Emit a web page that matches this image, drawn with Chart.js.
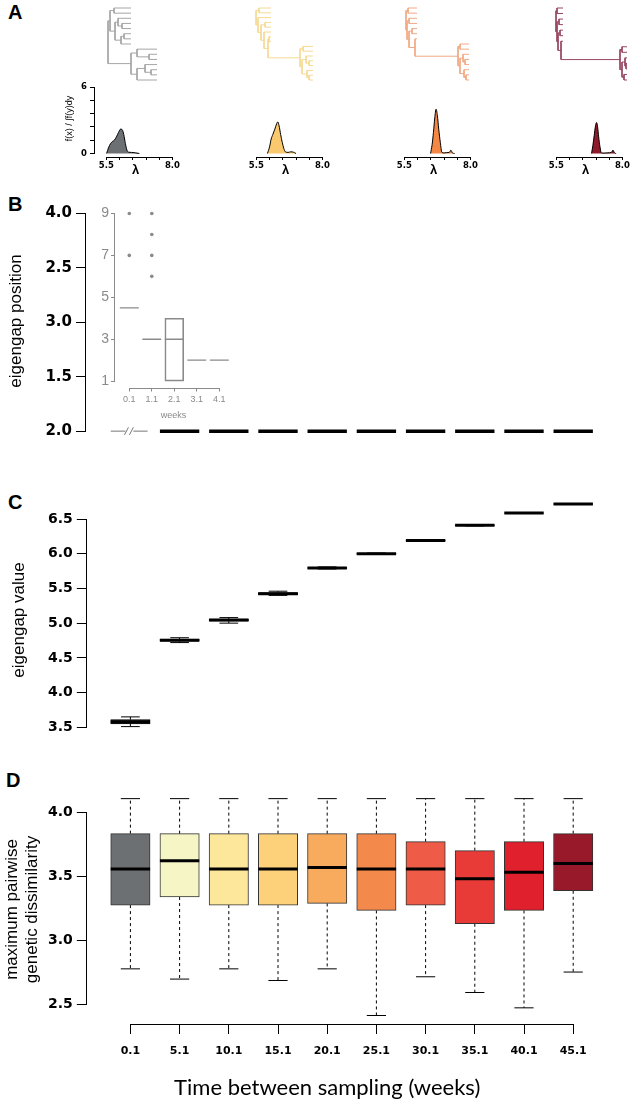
<!DOCTYPE html>
<html>
<head>
<meta charset="utf-8">
<script src="https://cdn.jsdelivr.net/npm/chart.js@4.4.1/dist/chart.umd.min.js"></script>
<style>
  body { margin: 0; background: #fff; width: 633px; height: 1102px; position: relative; overflow: hidden; }
  canvas { position: absolute; }
  .tag { position: absolute; font: bold 20px "Liberation Sans", Arial, sans-serif; line-height: 20px; color: #000; }
</style>
</head>
<body>
<div class="tag" style="left:8px;top:2px">A</div>
<div class="tag" style="left:8px;top:194px">B</div>
<div class="tag" style="left:8px;top:492px">C</div>
<div class="tag" style="left:6px;top:770px">D</div>
<script>
// ---------- data ----------
const weeks = ["0.1", "5.1", "10.1", "15.1", "20.1", "25.1", "30.1", "35.1", "40.1", "45.1"];
const weekColors = ["#6c7073", "#f6f5c5", "#fde79b", "#fdd17a", "#f9ab5d", "#f4894c", "#ee5b46", "#e83b38", "#e0202d", "#98192a"];

// A: trees, node = [branch length, [children]] , leaf = branch length
const tree1 = [0, [
  [2, [[4, [17, 17]], [5, [[3, [13, [4, [9, 9]]]], [6, [[3, [7, 7]], 10]]]]]],
  [23, [[6, [20, [12, [8, 8]]]], [6, [[8, [12, [6, [6, 6]]]], 20]]]]
]];
const tree2Low = [32, [[3, [10, 10]], [2, [[4, [7, [3, [4, 4]]]], [5, [6, [2, [4, 4]]]]]]]];
const tree2 = [0, [[3, [12, 12]], [2, [13, [3, [[4, [6, 6]], [3, [7, [4, [[1, [2, 2]], tree2Low]]]]]]]]]];
const tree3Low = [43, [[2, [9, 9]], [2, [[3, [6, [2, [4, 4]]]], [4, [5, [2, [3, 3]]]]]]]];
const tree3 = [0, [[2, [9, 9]], [1, [[2, [8, 8]], [2, [[3, [5, 5]], [6, [2, tree3Low]]]]]]]];
const tree4Low = [59, [[2, [5, 5]], [2, [[3, [2, [1, [1, 1]]]], [2, [3, 3]]]]]];
const tree4 = [0, [[1, [6, 6]], [1, [[2, [4, 4]], [1, [[2, [3, 3]], [3, [2, tree4Low]]]]]]]];
const trees = [tree1, tree2, tree3, tree4];
const treeColors = ["#a6a6a6", "#f6da95", "#f2a984", "#984860"];

// A: densities of lambda
const densL1 = [5.51, 5.58, 5.66, 5.74, 5.8, 5.88, 5.96, 6.04, 6.1, 6.16, 6.22, 6.28, 6.34, 6.45, 6.6, 6.75];
const densH1 = [0, 0.5, 0.9, 1.1, 1.2, 1.5, 1.9, 2.2, 2.15, 1.7, 0.9, 0.3, 0.12, 0.1, 0.06, 0];
const densL2 = [5.92, 6.0, 6.06, 6.12, 6.2, 6.27, 6.31, 6.36, 6.42, 6.48, 6.54, 6.6, 6.7, 6.8, 6.9, 7.0];
const densH2 = [0, 0.6, 1.3, 1.7, 2.2, 2.7, 2.85, 2.5, 1.7, 1.0, 0.45, 0.15, 0.1, 0.15, 0.12, 0];
const densL3 = [6.49, 6.55, 6.6, 6.65, 6.7, 6.75, 6.8, 6.86, 6.92, 7.0, 7.1, 7.2, 7.26, 7.32, 7.4];
const densH3 = [0, 0.8, 1.9, 3.2, 4.0, 3.4, 2.2, 1.0, 0.1, 0.05, 0.08, 0.1, 0.3, 0.05, 0];
const densL4 = [6.83, 6.88, 6.93, 6.98, 7.02, 7.06, 7.1, 7.15, 7.2, 7.3, 7.45, 7.58, 7.64, 7.7, 7.76];
const densH4 = [0, 0.7, 1.6, 2.5, 2.8, 2.4, 1.5, 0.6, 0.05, 0.04, 0.06, 0.1, 0.3, 0.05, 0];
const densColors = ["#6c7073", "#fbc96d", "#f38844", "#8e1a2b"];
const densXTicks = [5.5, 6, 6.5, 7, 7.5, 8];
const densXLabels = ["5.5", "", "", "", "", "8.0"];
const densYTicks = [0, 1.2, 2.4, 3.6, 4.8, 6];
const densYLabels = ["0", "", "", "", "", "6"];

// B: eigengap position (first column drawn as an axis break)
const gapPosTicks = [0, 1, 2, 3, 4];
const gapPosLabels = ["2.0", "1.5", "3.0", "2.5", "4.0"];
const gapPos = [null, 0, 0, 0, 0, 0, 0, 0, 0, 0];
// B inset
const insetWeeks = ["0.1", "1.1", "2.1", "3.1", "4.1"];
const insetQ1 = [null, null, 1, null, null];
const insetQ3 = [null, null, 4, null, null];
const insetMed = [4.5, 3, 3, 2, 2];
const insetOut = [[7, 9], [6, 7, 8, 9], [], [], []];
const insetTicks = [1, 3, 5, 7, 9];

// C: eigengap value
const cLow = [3.51, 4.72, 5.00, 5.40, 5.78, 5.99, 6.18, 6.40, 6.58, 6.71];
const cQ1 = [3.55, 4.74, 5.03, 5.41, 5.79, 5.995, 6.185, 6.405, 6.583, 6.713];
const cMed = [3.58, 4.755, 5.045, 5.425, 5.795, 6.0, 6.19, 6.41, 6.586, 6.716];
const cQ3 = [3.61, 4.77, 5.06, 5.44, 5.80, 6.005, 6.195, 6.415, 6.589, 6.719];
const cHigh = [3.65, 4.79, 5.08, 5.46, 5.81, 6.01, 6.20, 6.42, 6.592, 6.722];
const cTicks = [3.5, 4.0, 4.5, 5.0, 5.5, 6.0, 6.5];

// D: maximum pairwise genetic dissimilarity
const dLow = [2.775, 2.695, 2.775, 2.684, 2.775, 2.41, 2.713, 2.59, 2.47, 2.75];
const dQ1 = [3.274, 3.337, 3.274, 3.274, 3.287, 3.232, 3.274, 3.128, 3.232, 3.386];
const dMed = [3.556, 3.62, 3.556, 3.556, 3.569, 3.556, 3.556, 3.48, 3.53, 3.60];
const dQ3 = [3.833, 3.833, 3.833, 3.833, 3.833, 3.833, 3.77, 3.70, 3.77, 3.833];
const dHigh = [4.107, 4.107, 4.107, 4.107, 4.107, 4.107, 4.107, 4.107, 4.107, 4.107];
const dTicks = [2.5, 3.0, 3.5, 4.0];

// ---------- helpers ----------
const lin = (p, p0, v0, p1, v1) => v0 + (p - p0) * (v1 - v0) / (p1 - p0);
const COL0 = 130.4, COLW = 49.2;          // first week column and spacing (px)
const colAt = p => (p - COL0) / COLW;
const SANS = "'Liberation Sans', 'DejaVu Sans', Arial, sans-serif";
const BOLDNUM = "'DejaVu Sans', sans-serif";

function addCanvas(left, top, w, h) {
  const c = document.createElement("canvas");
  c.width = w; c.height = h;
  c.style.left = left + "px"; c.style.top = top + "px";
  c.style.width = w + "px"; c.style.height = h + "px";
  document.body.appendChild(c);
  return c;
}

// R-like axis line, only between the first and last tick
const spines = {
  id: "spines",
  afterDraw(chart, args, opts) {
    const ctx = chart.ctx, a = chart.chartArea;
    ctx.save();
    ctx.strokeStyle = opts.color || "#000";
    ctx.lineWidth = 1;
    if (opts.x) {
      const s = chart.scales.x, y = Math.round(a.bottom) + 0.5;
      ctx.beginPath();
      ctx.moveTo(s.getPixelForValue(opts.x[0]), y);
      ctx.lineTo(s.getPixelForValue(opts.x[1]), y);
      ctx.stroke();
    }
    if (opts.y) {
      const s = chart.scales.y, x = Math.round(a.left) - 0.5;
      ctx.beginPath();
      ctx.moveTo(x, s.getPixelForValue(opts.y[0]));
      ctx.lineTo(x, s.getPixelForValue(opts.y[1]));
      ctx.stroke();
    }
    ctx.restore();
  }
};

function axis(o) {
  const color = o.color || "#000";
  return {
    type: "linear",
    display: o.display !== false,
    offset: false,
    min: o.min, max: o.max, reverse: !!o.reverse,
    afterFit: s => { if (o.size != null) { if (s.isHorizontal()) s.height = o.size; else s.width = o.size; } },
    afterBuildTicks: s => { if (o.ticks) s.ticks = o.ticks.map(v => ({ value: v })); },
    border: { display: false },
    grid: { offset: false, drawOnChartArea: false, color: color, tickLength: o.tick || 8, lineWidth: 1 },
    ticks: { color: color, font: o.font, padding: o.pad || 3, autoSkip: false, maxRotation: 0, callback: o.label },
    title: o.title ? { display: true, text: o.title, color: color, font: o.titleFont, padding: o.titlePad } : { display: false }
  };
}

function baseOptions(padding, scales, spineOpts) {
  return {
    responsive: false, animation: false, events: [], devicePixelRatio: 1,
    layout: { padding: padding },
    scales: scales,
    plugins: { legend: { display: false }, tooltip: { enabled: false }, spines: spineOpts || {} }
  };
}

function segments(list) {
  // list of [x0, y0, x1, y1] -> points separated by gaps
  const pts = [];
  list.forEach(s => pts.push({ x: s[0], y: s[1] }, { x: s[2], y: s[3] }, { x: s[2], y: null }));
  return pts;
}

function boxDatasets(lo, q1, med, q3, hi, o) {
  const idx = med.map((_, i) => i);
  const whisk = [], caps = [], meds = [];
  idx.forEach(i => {
    if (hi && q3[i] != null) {
      whisk.push([i, q3[i], i, hi[i]], [i, q1[i], i, lo[i]]);
      caps.push([i - o.cap, hi[i], i + o.cap, hi[i]], [i - o.cap, lo[i], i + o.cap, lo[i]]);
    }
    meds.push([i - o.half, med[i], i + o.half, med[i]]);
  });
  // listed last column first, so no segment is trimmed at the edge of the plot region
  const seg = list => segments(list.slice().reverse());
  return [
    { type: "bar", data: idx.map(i => ({ x: i, y: q1[i] == null ? null : [q1[i], q3[i]] })),
      backgroundColor: o.fill, borderColor: o.edge, borderWidth: 1, borderSkipped: false,
      barThickness: 2 * o.half * o.colPx, order: 2, clip: false },
    { type: "line", data: seg(whisk), borderColor: "#000", borderWidth: 1, borderDash: [3, 3], pointRadius: 0, order: 3, clip: false },
    { type: "line", data: seg(caps), borderColor: "#000", borderWidth: 1, pointRadius: 0, order: 1, clip: false },
    { type: "line", data: seg(meds), borderColor: o.medColor || "#000", borderWidth: o.medWidth, pointRadius: 0, order: 0, clip: false }
  ];
}

// ---------- A: trees ----------
function layoutTree(tree) {
  const segs = [];
  let leaf = 0, depth = 0;
  function walk(node, x0) {
    if (typeof node === "number") {
      const y = leaf++;
      segs.push([x0, y, x0 + node, y]);
      depth = Math.max(depth, x0 + node);
      return y;
    }
    const x = x0 + node[0];
    const ys = node[1].map(ch => walk(ch, x));
    const y = (ys[0] + ys[ys.length - 1]) / 2;
    segs.push([x, ys[0], x, ys[ys.length - 1]]);
    if (node[0] > 0) segs.push([x0, y, x, y]);
    return y;
  }
  walk(tree, 0);
  return { segs, leaves: leaf, depth };
}

const treeRoots = [108, 256, 406, 556];
trees.forEach((t, k) => {
  const L = layoutTree(t);
  const c = addCanvas(treeRoots[k] - 3, 5, L.depth + 6, 78);
  new Chart(c, {
    type: "line",
    data: { datasets: [{ data: segments(L.segs), borderColor: treeColors[k], borderWidth: 1, pointRadius: 0, clip: false }] },
    options: baseOptions(3, {
      x: axis({ display: false, min: 0, max: L.depth }),
      y: axis({ display: false, min: 0, max: L.leaves - 1, reverse: true })
    })
  });
});

// ---------- A: densities ----------
const densL = [densL1, densL2, densL3, densL4];
const densH = [densH1, densH2, densH3, densH4];
const densX0 = [107, 257, 405, 557];   // pixel of lambda = 5.5
densX0.forEach((x0, k) => {
  const first = k === 0;
  const yW = first ? 40 : 0;
  const left = x0 - 12 - yW, w = yW + 86;
  const c = addCanvas(left, 70, w, 110);
  const xmin = lin(x0 - 12, x0, 5.5, x0 + 70, 8.0), xmax = lin(x0 + 74, x0, 5.5, x0 + 70, 8.0);
  const ymin = lin(157, 153.5, 0, 87, 6), ymax = lin(80, 153.5, 0, 87, 6);
  new Chart(c, {
    type: "line",
    data: { datasets: [{
      data: densL[k].map((v, i) => ({ x: v, y: densH[k][i] })),
      borderColor: "#000", borderWidth: 1, backgroundColor: densColors[k],
      fill: "origin", pointRadius: 0, cubicInterpolationMode: "monotone"
    }] },
    options: baseOptions({ top: 10, right: 0, bottom: 0, left: 0 }, {
      x: axis({ min: xmin, max: xmax, size: 23, ticks: densXTicks, tick: 3, pad: 1,
        label: (v, i) => densXLabels[i],
        font: { family: BOLDNUM, size: 8.5, weight: "bold" },
        title: "λ", titleFont: { family: SANS, size: 13, weight: "bold" }, titlePad: { top: 0, bottom: 2.2 } }),
      y: first
        ? axis({ min: ymin, max: ymax, size: 40, ticks: densYTicks, tick: 5, pad: 3,
            label: (v, i) => densYLabels[i],
            font: { family: BOLDNUM, size: 8.5, weight: "bold" },
            title: "f(x) / ∫f(y)dy", titleFont: { family: SANS, size: 9 }, titlePad: { top: 9.6, bottom: 0 } })
        : axis({ display: false, min: ymin, max: ymax })
    }, first ? { x: [5.5, 8], y: [0, 6] } : { x: [5.5, 8] }),
    plugins: [spines]
  });
});

// ---------- B: eigengap position ----------
(function () {
  const c = addCanvas(0, 180, 633, 270);
  const half = 0.4;
  const dashes = [], brk = [];
  gapPos.forEach((v, i) => {
    if (v == null) {
      brk.push([i - half, 0, i - 0.1, 0], [i + 0.06, 0, i + 0.35, 0],
               [i - 0.12, -0.07, i - 0.04, 0.07], [i - 0.02, -0.07, i + 0.06, 0.07]);
    } else {
      dashes.push([i - half, v, i + half, v]);
    }
  });
  new Chart(c, {
    type: "line",
    data: { datasets: [
      { data: segments(dashes), borderColor: "#000", borderWidth: 3.5, pointRadius: 0, clip: false },
      { data: segments(brk), borderColor: "#777", borderWidth: 1, pointRadius: 0, clip: false }
    ] },
    options: baseOptions({ top: 25, right: 23, bottom: 8, left: 0 }, {
      x: axis({ display: false, min: colAt(86), max: colAt(610) }),
      y: axis({ min: lin(442, 213.5, 4, 436, 0), max: lin(205, 213.5, 4, 436, 0), size: 86,
        ticks: gapPosTicks, tick: 10, pad: 4, label: (v, i) => gapPosLabels[i],
        font: { family: BOLDNUM, size: 15, weight: "bold" },
        title: "eigengap position", titleFont: { family: SANS, size: 17 }, titlePad: { top: 6, bottom: 0 } })
    }, { y: [0, 4] }),
    plugins: [spines]
  });
})();

// ---------- B: inset ----------
(function () {
  const c = addCanvas(60, 195, 180, 230);
  const grey = "#8a8a8a";
  const ds = boxDatasets(null, insetQ1, insetMed, insetQ3, null,
    { half: 0.42, cap: 0, colPx: 22.5, fill: "rgba(0,0,0,0)", edge: grey, medWidth: 1.3, medColor: grey });
  const pts = [];
  insetOut.forEach((arr, i) => arr.forEach(v => pts.push({ x: i, y: v })));
  ds.push({ type: "scatter", data: pts, pointRadius: 1.8, pointBackgroundColor: grey, pointBorderWidth: 0, order: 0 });
  new Chart(c, {
    type: "bar",
    data: { datasets: ds },
    options: baseOptions({ top: 5, right: 8, bottom: 0, left: 0 }, {
      x: axis({ min: lin(115, 129.3, 0, 219.3, 4), max: lin(232, 129.3, 0, 219.3, 4), size: 37.5,
        ticks: insetWeeks.map((_, i) => i), tick: 4, pad: 3, color: grey, label: v => insetWeeks[v],
        font: { family: SANS, size: 9 },
        title: "weeks", titleFont: { family: SANS, size: 9 }, titlePad: { top: 0, bottom: 3.6 } }),
      y: axis({ min: lin(387.5, 381, 1, 208.3, 9), max: lin(200, 381, 1, 208.3, 9), size: 55,
        ticks: insetTicks, tick: 4, pad: 2, color: grey, label: v => String(v),
        font: { family: SANS, size: 14 } })
    }, { x: [0, 4], y: [1, 9], color: grey }),
    plugins: [spines]
  });
})();

// ---------- C: eigengap value ----------
(function () {
  const c = addCanvas(0, 440, 633, 320);
  new Chart(c, {
    type: "bar",
    data: { datasets: boxDatasets(cLow, cQ1, cMed, cQ3, cHigh,
      { half: 0.4, cap: 0.19, colPx: COLW, fill: "#555", edge: "#000", medWidth: 3 }) },
    options: baseOptions({ top: 55, right: 23, bottom: 15, left: 0 }, {
      x: axis({ display: false, min: colAt(86.8), max: colAt(610) }),
      y: axis({ min: lin(745, 519, 6.5, 727.3, 3.5), max: lin(495, 519, 6.5, 727.3, 3.5), size: 86.8,
        ticks: cTicks, tick: 10, pad: 4, label: v => v.toFixed(1),
        font: { family: BOLDNUM, size: 14, weight: "bold" },
        title: "eigengap value", titleFont: { family: SANS, size: 17 }, titlePad: { top: 8.8, bottom: 0 } })
    }, { y: [3.5, 6.5] }),
    plugins: [spines]
  });
})();

// ---------- D: maximum pairwise genetic dissimilarity ----------
(function () {
  const c = addCanvas(0, 770, 633, 332);
  const right = 567.6;   // plot region right edge, keeps the x title centred as in the original
  const ds = boxDatasets(dLow, dQ1, dMed, dQ3, dHigh,
    { half: 0.4, cap: 0.195, colPx: COLW, fill: weekColors, edge: "#333", medWidth: 3 });
  new Chart(c, {
    type: "bar",
    data: { datasets: ds },
    options: baseOptions({ top: 25, right: 633 - right, bottom: 0, left: 0 }, {
      x: axis({ min: colAt(86.8), max: colAt(right), size: 78,
        ticks: weeks.map((_, i) => i), tick: 10, pad: 11, label: v => weeks[v],
        font: { family: BOLDNUM, size: 11, weight: "bold" },
        title: "Time between sampling (weeks)", titleFont: { family: "Lato, 'Open Sans', sans-serif", size: 22 },
        titlePad: { top: 0, bottom: 1 } }),
      y: axis({ min: lin(1024, 812.3, 4.0, 1004, 2.5), max: lin(795, 812.3, 4.0, 1004, 2.5), size: 86.8,
        ticks: dTicks, tick: 10, pad: 4, label: v => v.toFixed(1),
        font: { family: BOLDNUM, size: 14, weight: "bold" },
        title: ["maximum pairwise", "genetic dissimilarity"], titleFont: { family: SANS, size: 17, lineHeight: 1.2 },
        titlePad: { top: 2, bottom: 0 } })
    }, { x: [0, 9], y: [2.5, 4.0] }),
    plugins: [spines]
  });
})();
</script>
</body>
</html>
